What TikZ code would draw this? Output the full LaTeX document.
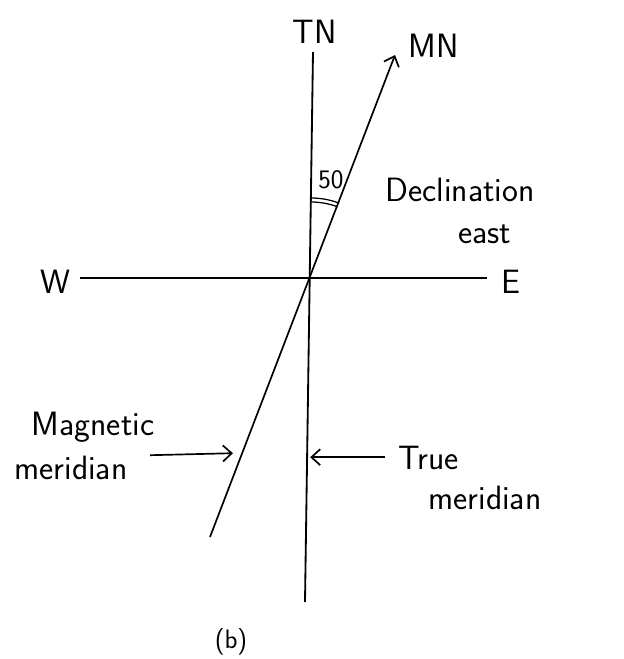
\documentclass[tikz,border=0pt]{standalone}
\usetikzlibrary{positioning, arrows.meta}

\begin{document}
\begin{tikzpicture}[
    line/.style={draw, line width=1.3pt},
    pointer/.style={draw, -{Straight Barb[length=2.2mm, width=4mm]}, line width=1.2pt},
    hand/.style={font=\sffamily\fontsize{24}{28}\selectfont, inner sep=1pt},
    small/.style={font=\sffamily\fontsize{19}{23}\selectfont, inner sep=1pt}
]
  \useasboundingbox (-7.775, -9.525) rectangle (7.8, 6.95);
  % --- the two meridians and the east-west line -------------------------
  \coordinate (o) at (0, 0);
  \coordinate (tntop) at (0.05, 5.65);
  \coordinate (tnbot) at (-0.15, -8.1);
  \coordinate (mntip) at (2.1, 5.575);
  \coordinate (mnbot) at (-2.525, -6.475);
  \coordinate (wend) at (-5.775, 0);
  \coordinate (eend) at (4.4, 0);
  \draw[line] (tntop) -- (tnbot);
  \draw[line] (wend) -- (eend);
  \draw[pointer] (mnbot) -- (mntip);
  \node[hand] (tn) at (0.1, 6.15) {TN};
  \node[hand, anchor=west] (mn) at (2.4, 5.8) {MN};
  \node[hand] (w) at (-6.4, -0.1) {W};
  \node[hand] (e) at (5.0, -0.1) {E};
  % --- declination angle -------------------------------------------------
  \draw[line, line width=0.9pt] (0, 1.9) arc (90:69.4:1.9);
  \draw[line, line width=0.9pt] (0, 2.0) arc (90:69.4:2.0);
  \node[small] (angle) at (0.5, 2.45) {50};
  \node[hand] (decl) at (3.725, 2.2) {Declination};
  \node[hand] (east) at (4.35, 1.1) {east};
  % --- labels with arrows --------------------------------------------------
  \node[hand] (mag) at (-5.45, -3.725) {Magnetic};
  \node[hand] (magmer) at (-6.0, -4.75) {meridian};
  \coordinate (magfrom) at (-4.025, -4.43);
  \coordinate (magto) at (-1.95, -4.38);
  \draw[pointer] (magfrom) -- (magto);
  \node[hand, anchor=west] (true) at (2.15, -4.5) {True};
  \node[hand] (truemer) at (4.35, -5.5) {meridian};
  \coordinate (truefrom) at (1.85, -4.48);
  \coordinate (trueto) at (-0.02, -4.48);
  \draw[pointer] (truefrom) -- (trueto);
  \node[small] (fig) at (-2.0, -9.1) {(b)};
\end{tikzpicture}
\end{document}
